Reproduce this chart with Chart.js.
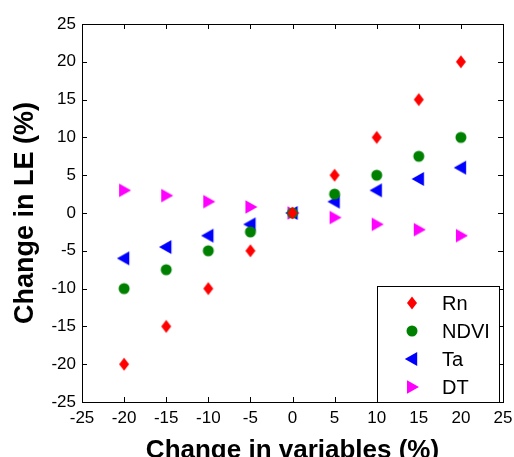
<!DOCTYPE html>
<html>
<head>
<meta charset="utf-8">
<script src="https://cdn.jsdelivr.net/npm/chart.js@4/dist/chart.umd.min.js"></script>
<style>
  html, body { margin: 0; padding: 0; background: #fff; }
  #wrap { width: 514px; height: 457px; }
</style>
</head>
<body>
<div id="wrap"><canvas id="c" width="514" height="457"></canvas></div>
<script>
// ---- data ----
const changes = [-20, -15, -10, -5, 0, 5, 10, 15, 20];
const rnValues = [-20, -15, -10, -5, 0, 5, 10, 15, 20];
const ndviValues = [-10, -7.5, -5, -2.5, 0, 2.5, 5, 7.5, 10];
const taValues = [-6, -4.5, -3, -1.5, 0, 1.5, 3, 4.5, 6];
const dtValues = [3, 2.3, 1.5, 0.8, 0, -0.6, -1.5, -2.2, -3];
const seriesNames = ['Rn', 'NDVI', 'Ta', 'DT'];
const xTicks = [-25, -20, -15, -10, -5, 0, 5, 10, 15, 20, 25];
const yTicks = [-25, -20, -15, -10, -5, 0, 5, 10, 15, 20, 25];

const FONT = '"Liberation Sans", Arial, Helvetica, sans-serif';

function marker(kind, color) {
  const c = document.createElement('canvas');
  c.width = 18; c.height = 18;
  const g = c.getContext('2d');
  const cx = 9, cy = 9;
  g.fillStyle = color;
  g.beginPath();
  if (kind === 'diamond') {
    g.moveTo(cx, cy - 6.5); g.lineTo(cx + 5, cy); g.lineTo(cx, cy + 6.5); g.lineTo(cx - 5, cy);
  } else if (kind === 'circle') {
    g.arc(cx, cy, 5.5, 0, Math.PI * 2);
  } else if (kind === 'left') {
    g.moveTo(cx - 7.2, cy); g.lineTo(cx + 5.2, cy - 6.9); g.lineTo(cx + 5.2, cy + 6.9);
  } else if (kind === 'right') {
    g.moveTo(cx + 7, cy); g.lineTo(cx - 5, cy - 6.8); g.lineTo(cx - 5, cy + 6.8);
  }
  g.closePath();
  g.fill();
  return c;
}

const styles = [
  { kind: 'diamond', color: '#ff0000' },
  { kind: 'circle', color: '#008000' },
  { kind: 'left', color: '#0000ff' },
  { kind: 'right', color: '#ff00ff' }
];
const seriesValues = [rnValues, ndviValues, taValues, dtValues];
const images = styles.map(s => marker(s.kind, s.color));

const datasets = seriesNames.map((name, i) => ({
  label: name,
  data: changes.map((x, j) => ({ x: x, y: seriesValues[i][j] })),
  pointStyle: images[i],
  backgroundColor: styles[i].color,
  borderColor: styles[i].color,
  showLine: false
}));

const boxPlugin = {
  id: 'boxPlugin',
  beforeDatasetsDraw(chart) {
    const { ctx, chartArea: a, scales } = chart;
    ctx.save();
    ctx.strokeStyle = '#000';
    ctx.lineWidth = 1;
    ctx.beginPath();
    const tl = 5;
    xTicks.forEach(v => {
      if (v === xTicks[0] || v === xTicks[xTicks.length - 1]) return;
      const px = Math.round(scales.x.getPixelForValue(v)) + 0.5;
      ctx.moveTo(px, a.bottom); ctx.lineTo(px, a.bottom - tl);
      ctx.moveTo(px, a.top); ctx.lineTo(px, a.top + tl);
    });
    yTicks.forEach(v => {
      if (v === yTicks[0] || v === yTicks[yTicks.length - 1]) return;
      const py = Math.round(scales.y.getPixelForValue(v)) + 0.5;
      ctx.moveTo(a.left, py); ctx.lineTo(a.left + tl, py);
      ctx.moveTo(a.right, py); ctx.lineTo(a.right - tl, py);
    });
    ctx.stroke();
    ctx.strokeRect(Math.round(a.left) + 0.5, Math.round(a.top) + 0.5,
      Math.round(a.right - a.left), Math.round(a.bottom - a.top));
    ctx.restore();
  },
  afterDatasetsDraw(chart) {
    const { ctx, chartArea: a } = chart;
    const w = 122, h = 116;
    const x0 = Math.round(a.right) - 4 - w, y0 = Math.round(a.bottom) - h;
    ctx.save();
    ctx.fillStyle = '#fff';
    ctx.fillRect(x0, y0, w, h);
    ctx.strokeStyle = '#000';
    ctx.lineWidth = 1;
    ctx.strokeRect(x0 + 0.5, y0 + 0.5, w, h);
    ctx.font = '20px ' + FONT;
    ctx.fillStyle = '#000';
    ctx.textBaseline = 'middle';
    ctx.textAlign = 'left';
    chart.data.datasets.forEach((ds, i) => {
      const cy = y0 + 17 + i * 28;
      const img = ds.pointStyle;
      ctx.drawImage(img, x0 + 35 - img.width / 2, cy - img.height / 2);
      ctx.fillText(ds.label, x0 + 65, cy + 1);
    });
    ctx.restore();
  }
};

new Chart(document.getElementById('c'), {
  type: 'scatter',
  data: { datasets: datasets },
  options: {
    responsive: false,
    animation: false,
    devicePixelRatio: 1,
    layout: { padding: { top: 24, right: 11, left: 0, bottom: 0 } },
    plugins: { legend: { display: false }, tooltip: { enabled: false } },
    elements: { point: { radius: 6 } },
    scales: {
      x: {
        type: 'linear',
        min: -25, max: 25,
        afterBuildTicks(s) { s.ticks = xTicks.map(v => ({ value: v })); },
        afterFit(s) { s.height = 55; s.paddingLeft = 0; s.paddingRight = 0; },
        grid: { display: false, drawTicks: false },
        border: { display: false },
        ticks: { color: '#000', font: { family: FONT, size: 17 }, padding: 6, maxRotation: 0, autoSkip: false },
        title: { display: true, text: 'Change in variables (%)', color: '#000',
          font: { family: FONT, size: 26, weight: 'bold', lineHeight: 0.5 }, padding: { top: 0, bottom: 0 } }
      },
      y: {
        type: 'linear',
        min: -25, max: 25,
        afterBuildTicks(s) { s.ticks = yTicks.map(v => ({ value: v })); },
        afterFit(s) { s.width = 82; s.paddingTop = 0; s.paddingBottom = 0; },
        grid: { display: false, drawTicks: false },
        border: { display: false },
        ticks: { color: '#000', font: { family: FONT, size: 17 }, padding: 6, autoSkip: false },
        title: { display: true, text: 'Change in LE (%)', color: '#000',
          font: { family: FONT, size: 27, weight: 'bold', lineHeight: 1 }, padding: { top: 12, bottom: 0 } }
      }
    }
  },
  plugins: [boxPlugin]
});
</script>
</body>
</html>
